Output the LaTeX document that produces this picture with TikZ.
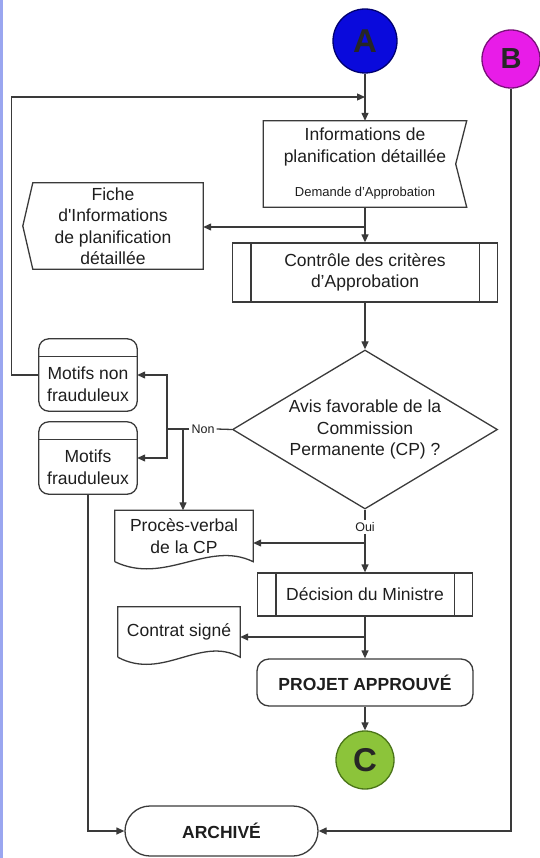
\documentclass[tikz,border=0pt]{standalone}
\usepackage{fontspec}
\setmainfont{Liberation Sans}
\usetikzlibrary{shapes.geometric,arrows.meta}
\definecolor{linegray}{HTML}{3A3A3A}
\definecolor{txtgray}{HTML}{1E1E1E}
\definecolor{conA}{HTML}{0A0ADC}
\definecolor{conAline}{HTML}{000070}
\definecolor{conB}{HTML}{E81CE8}
\definecolor{conBline}{HTML}{7A107A}
\definecolor{conC}{HTML}{8CC43A}
\definecolor{conCline}{HTML}{4A7418}
\definecolor{edgeblue}{HTML}{9AA6F0}

\begin{document}
\begin{tikzpicture}[
    x=1pt, y=-1pt,
    >={Triangle[length=8pt,width=7pt]},
    every node/.style={inner sep=0pt, align=center, text=txtgray, font=\fontsize{17.5}{21.5}\selectfont},
    line/.style={draw=linegray, line width=1.3pt},
    outline/.style={draw=linegray, line width=1.3pt},
    conn/.style={circle, line width=1.3pt, text=black!85, font=\bfseries\fontsize{33}{33}\selectfont},
    procbox/.style={rectangle, outline},
    decision/.style={diamond, outline, aspect=1.67},
    termbox/.style={rectangle, outline, font=\bfseries\fontsize{17.5}{21.5}\selectfont},
    smalllabel/.style={inner sep=2pt, font=\fontsize{12.5}{14}\selectfont}
]
\useasboundingbox (0,0) rectangle (539,858);
\fill[edgeblue] (0,0) rectangle (2.6,858);

% Connectors
\node[conn, fill=conA, draw=conAline, minimum size=64] (A) at (365,41) {A};
\node[conn, fill=conB, draw=conBline, minimum size=58, font=\bfseries\fontsize{29}{29}\selectfont] (B) at (511,59) {B};
\node[conn, fill=conC, draw=conCline, minimum size=58] (C) at (365,760) {C};

% Information sheet and request
\node[minimum width=203, minimum height=86] (info) at (365,164) {Informations de\\planification détaillée\\[13pt]{\fontsize{13}{15}\selectfont Demande d'Approbation}};
\draw[outline] (info.north west) -- (info.north east) -- ([xshift=-11pt]info.east) -- (info.south east) -- (info.south west) -- cycle;

\node[minimum width=180, minimum height=86] (fiche) at (113,226) {Fiche\\d\textquotesingle Informations\\de planification\\détaillée};
\draw[outline] (fiche.north east) -- ([xshift=10pt]fiche.north west) -- (fiche.west) -- ([xshift=10pt]fiche.south west) -- (fiche.south east) -- cycle;

% Control
\node[procbox, minimum width=265, minimum height=59] (ctrl) at (365,272.5) {Contrôle des critères\\d'Approbation};
\draw[outline] ([xshift=19pt]ctrl.north west) -- ([xshift=19pt]ctrl.south west)
    ([xshift=-19pt]ctrl.north east) -- ([xshift=-19pt]ctrl.south east);

% Decision of the commission
\node[decision, minimum width=265, minimum height=159] (avis) at (365,429.5) {Avis favorable de la\\Commission\\Permanente (CP) ?};
\node[smalllabel] (non) at (203,429) {Non};
\node[smalllabel] (oui) at (365,527) {Oui};

% Motifs
\node[minimum width=98, minimum height=54] (mnon) at (88,384) {Motifs non\\frauduleux};
\draw[outline, rounded corners=10pt] ([yshift=18pt]mnon.north west) rectangle (mnon.south east);
\draw[outline] (mnon.north west) -- (mnon.north east);

\node[minimum width=98, minimum height=54] (mfr) at (88,467) {Motifs\\frauduleux};
\draw[outline, rounded corners=10pt] ([yshift=18pt]mfr.north west) rectangle (mfr.south east);
\draw[outline] (mfr.north west) -- (mfr.north east);

% Documents
\node[minimum width=138, minimum height=51] (pv) at (184,536) {Procès-verbal\\de la CP};
\draw[outline] (pv.south west) -- (pv.north west) -- (pv.north east) -- (pv.south east)
    .. controls +(-45,-22) and +(50,24) .. (pv.south west);

\node[minimum width=122, minimum height=50] (ctr) at (179,632) {Contrat signé};
\draw[outline] (ctr.south west) -- (ctr.north west) -- (ctr.north east) -- (ctr.south east)
    .. controls +(-40,-22) and +(45,24) .. (ctr.south west);

% Minister and outcome
\node[procbox, minimum width=215, minimum height=43] (dec) at (365,594.5) {Décision du Ministre};
\draw[outline] ([xshift=19pt]dec.north west) -- ([xshift=19pt]dec.south west)
    ([xshift=-19pt]dec.north east) -- ([xshift=-19pt]dec.south east);

\node[termbox, rounded corners=12pt, minimum width=216, minimum height=47] (proj) at (365,682.5) {PROJET APPROUVÉ};
\node[termbox, rounded corners=25pt, minimum width=193, minimum height=50] (arch) at (221.5,831) {ARCHIVÉ};

% Flow
\coordinate (loopin) at (365,97);
\coordinate (finfo) at (365,227);
\coordinate (nonj) at (167,429);
\coordinate (pvj) at (183,429);
\coordinate (ouij) at (365,543);
\coordinate (decj) at (365,637);

\draw[line, ->] (A) -- (info);
\draw[line, ->] ([yshift=9pt]mnon.west) -- ++(-27,0) |- (loopin);
\draw[line, ->] (info) -- (ctrl);
\draw[line, ->] (finfo) -- (finfo -| fiche.east);
\draw[line, ->] (ctrl) -- (avis);
\draw[line] (avis.west) -- (non.east);
\draw[line] (non.west) -- (nonj);
\draw[line, ->] (nonj) |- ([yshift=9pt]mnon.east);
\draw[line, ->] (nonj) |- ([yshift=9pt]mfr.east);
\draw[line, ->] (pvj) -- (pvj |- pv.north);
\draw[line] (avis.south) -- (oui.north);
\draw[line, ->] (oui.south) -- (dec.north);
\draw[line, ->] (ouij) -- (ouij -| pv.east);
\draw[line, ->] (dec) -- (proj);
\draw[line, ->] (decj) -- (decj -| ctr.east);
\draw[line, ->] (proj) -- (C);
\draw[line, ->] (mfr.south) |- (arch.west);
\draw[line, ->] (B) |- (arch.east);

\end{tikzpicture}
\end{document}
